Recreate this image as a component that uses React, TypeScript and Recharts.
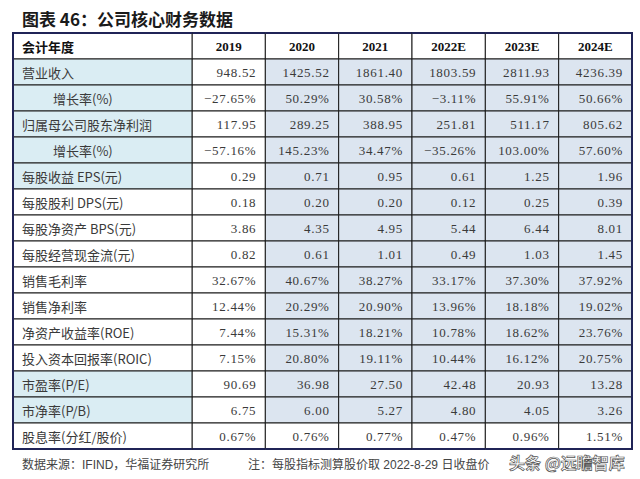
import { BarChart, Bar, XAxis, YAxis } from 'recharts'

const YEARS = ['2019', '2020', '2021', '2022E', '2023E', '2024E']
const ROW_LABELS = [
  '营业收入', '增长率(%)', '归属母公司股东净利润', '增长率(%)', '每股收益 EPS(元)',
  '每股股利 DPS(元)', '每股净资产 BPS(元)', '每股经营现金流(元)', '销售毛利率', '销售净利率',
  '净资产收益率(ROE)', '投入资本回报率(ROIC)', '市盈率(P/E)', '市净率(P/B)', '股息率(分红/股价)',
]
const revenue = [948.52, 1425.52, 1861.4, 1803.59, 2811.93, 4236.39]
const revenueGrowth = [-27.65, 50.29, 30.58, -3.11, 55.91, 50.66]
const netProfit = [117.95, 289.25, 388.95, 251.81, 511.17, 805.62]
const profitGrowth = [-57.16, 145.23, 34.47, -35.26, 103.0, 57.6]
const eps = [0.29, 0.71, 0.95, 0.61, 1.25, 1.96]
const dps = [0.18, 0.2, 0.2, 0.12, 0.25, 0.39]
const bps = [3.86, 4.35, 4.95, 5.44, 6.44, 8.01]
const cfps = [0.82, 0.61, 1.01, 0.49, 1.03, 1.45]
const grossMargin = [32.67, 40.67, 38.27, 33.17, 37.3, 37.92]
const netMargin = [12.44, 20.29, 20.9, 13.96, 18.18, 19.02]
const roe = [7.44, 15.31, 18.21, 10.78, 18.62, 23.76]
const roic = [7.15, 20.8, 19.11, 10.44, 16.12, 20.75]
const pe = [90.69, 36.98, 27.5, 42.48, 20.93, 13.28]
const pb = [6.75, 6.0, 5.27, 4.8, 4.05, 3.26]
const dividendYield = [0.67, 0.76, 0.77, 0.47, 0.96, 1.51]

const ROW_VALUES = [revenue, revenueGrowth, netProfit, profitGrowth, eps, dps, bps, cfps,
  grossMargin, netMargin, roe, roic, pe, pb, dividendYield]
const ROW_UNITS = ['', '%', '', '%', '', '', '', '', '%', '%', '%', '%', '', '', '%']

// styling per table row (0 = header)
const INDENT_ROWS = [2, 4]
const CYAN_LABEL_ROWS = [1, 2, 3, 4, 5, 13, 14]
const LAST_ROW = ROW_LABELS.length
const CYAN = '#daedf3'
const BLUE = '#dce5f0'
const BORDER = '#1b1b1b'
const FRAME = '#202457'
const ROW_H = 26
const LEFT = 13
const LABEL_W = 179
const CJK = '"Noto Sans CJK SC", sans-serif'
const SERIF = '"Liberation Serif", "Noto Sans CJK SC", serif'

const fmt = (v: number, unit: string) => v.toFixed(2).replace('-', '−') + unit

const tableData = [
  { label: '会计年度', cells: YEARS },
  ...ROW_LABELS.map((label, i) => ({ label, cells: ROW_VALUES[i].map((v) => fmt(v, ROW_UNITS[i])) })),
]

const LabelTick = (props: any) => {
  const { y, index, payload } = props
  const top = y - ROW_H / 2
  const header = index === 0
  const fill = CYAN_LABEL_ROWS.includes(index) ? CYAN : '#fff'
  return (
    <g>
      <rect x={LEFT} y={top} width={LABEL_W} height={ROW_H} fill={fill} stroke={BORDER} strokeWidth={1} />
      <text x={LEFT + (INDENT_ROWS.includes(index) ? 40 : 9)} y={y} dominantBaseline="central"
        fontFamily={CJK} fontSize={13} fontWeight={header ? 700 : 400} fill={header ? '#111' : '#3a3a3a'}>
        {payload.value}
      </text>
      <line x1={LEFT} x2={LEFT} y1={top - 1} y2={top + ROW_H + 1} stroke={FRAME} strokeWidth={2} />
      {header && <line x1={LEFT} x2={LEFT + LABEL_W} y1={top} y2={top} stroke={FRAME} strokeWidth={2} />}
      {index === LAST_ROW && <line x1={LEFT} x2={LEFT + LABEL_W} y1={top + ROW_H} y2={top + ROW_H} stroke={FRAME} strokeWidth={2} />}
    </g>
  )
}

const cellShape = (col: number) => (p: any) => {
  const { x, y, width, height, index, payload } = p
  const header = index === 0
  const fill = header || col === 0 || index === LAST_ROW ? '#fff' : BLUE
  const cy = y + height / 2
  return (
    <g>
      <rect x={x} y={y} width={width} height={height} fill={fill} stroke={BORDER} strokeWidth={1} />
      {header ? (
        <text x={x + width / 2} y={cy} textAnchor="middle" dominantBaseline="central"
          fontFamily={SERIF} fontSize={13} fontWeight={700} fill="#111">
          {payload.cells[col]}
        </text>
      ) : (
        <text x={x + width - 9} y={cy} textAnchor="end" dominantBaseline="central"
          fontFamily={SERIF} fontSize={13} letterSpacing={0.7} fill="#3a3a3a">
          {payload.cells[col]}
        </text>
      )}
      {header && <line x1={x} x2={x + width} y1={y} y2={y} stroke={FRAME} strokeWidth={2} />}
      {index === LAST_ROW && <line x1={x} x2={x + width} y1={y + height} y2={y + height} stroke={FRAME} strokeWidth={2} />}
      {col === YEARS.length - 1 && <line x1={x + width} x2={x + width} y1={y - 1} y2={y + height + 1} stroke={FRAME} strokeWidth={2} />}
    </g>
  )
}

export default function App() {
  return (
    <div style={{ position: 'fixed', left: 0, top: 0, width: 640, height: 479, background: '#fff' }}>
      <div style={{ position: 'absolute', left: 22, top: 6, fontFamily: CJK, fontSize: 17, fontWeight: 700, color: '#1a1a1a', whiteSpace: 'nowrap' }}>
        图表 46：公司核心财务数据
      </div>
      <BarChart width={640} height={479} data={tableData} layout="vertical"
        margin={{ top: 33, right: 8, bottom: 30, left: LEFT }} barCategoryGap={0} barGap={0}>
        <XAxis type="number" domain={[0, YEARS.length]} hide />
        <YAxis type="category" dataKey="label" width={LABEL_W} interval={0}
          axisLine={false} tickLine={false} tick={<LabelTick />} />
        {YEARS.map((yr, c) => (
          <Bar key={yr} dataKey={() => 1} stackId="table" isAnimationActive={false}
            shape={cellShape(c)} />
        ))}
      </BarChart>
      <div style={{ position: 'absolute', left: 22, top: 455, fontFamily: '"Liberation Sans", ' + CJK, fontSize: 12, color: '#444', whiteSpace: 'nowrap' }}>
        数据来源：IFIND，华福证券研究所
      </div>
      <div style={{ position: 'absolute', left: 248, top: 455, fontFamily: '"Liberation Sans", ' + CJK, fontSize: 12, color: '#444', whiteSpace: 'nowrap' }}>
        注：每股指标测算股价取 2022-8-29 日收盘价
      </div>
      <div style={{ position: 'absolute', left: 509, top: 450, fontFamily: CJK, fontSize: 16, fontWeight: 700, color: '#fff', WebkitTextStroke: '0.7px #555', whiteSpace: 'nowrap' }}>
        头条 @远瞻智库
      </div>
    </div>
  )
}
